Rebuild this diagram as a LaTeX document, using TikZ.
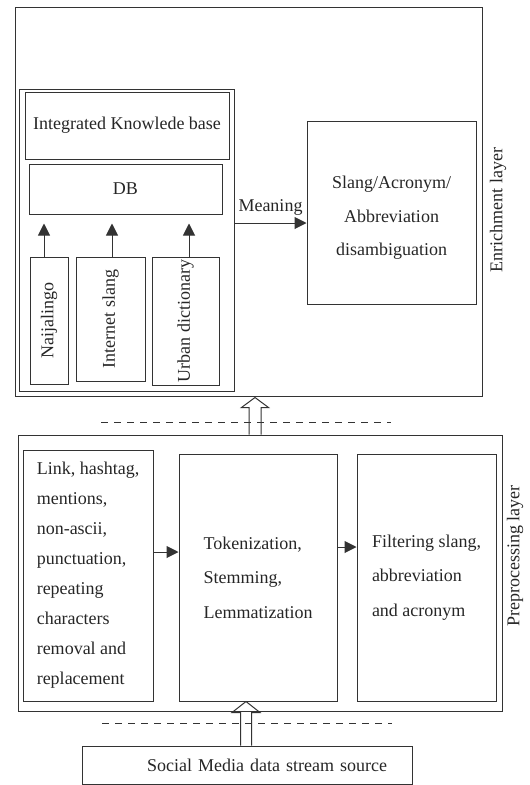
\documentclass[tikz,border=0pt]{standalone}
\usepackage{fontspec}
\setmainfont{Liberation Serif}
\usetikzlibrary{arrows.meta,positioning,calc}

\begin{document}
\begin{tikzpicture}[
  x=1pt, y=1pt,
  font=\fontsize{18}{22}\selectfont,
  blk/.style={draw=black!80, line width=1pt, align=center, inner sep=1pt, text=black!85},
  arrow/.style={-{Triangle[length=12pt, width=12pt]}, line width=1pt, draw=black!80, fill=black!80},
  hollow/.style={draw=black!80, line width=1pt, line join=miter},
  sep/.style={dash pattern=on 7pt off 6pt, line width=1pt, draw=black!80},
  layer/.style={rotate=90, text=black!85}
]
\useasboundingbox (0,0) rectangle (530,-785);

% enrichment layer
\node[blk, minimum width=467pt, minimum height=389pt] (enrich) at (248.5,-201.5) {};
\node[layer] (enrichlbl) at (498,-210) {Enrichment layer};
\node[blk, minimum width=215pt, minimum height=302pt] (kb) at (126.5,-240) {};
\node[blk, minimum width=204pt, minimum height=67pt] (ikb) at (127,-125.5) {Integrated Knowlede base};
\node[blk, minimum width=193pt, minimum height=50pt] (db) at (125.5,-189) {DB};
\node[blk, rotate=90, minimum width=127pt, minimum height=38pt] (naija) at (49,-320.5) {Naijalingo};
\node[blk, rotate=90, minimum width=124pt, minimum height=69pt] (islang) at (110.5,-319) {Internet slang};
\node[blk, rotate=90, minimum width=128pt, minimum height=67pt] (urban) at (185.5,-321) {Urban dictionary};
\node[blk, minimum width=169pt, minimum height=183pt, text height=90pt, font=\fontsize{18}{33.5}\selectfont] (slang) at (391.5,-212.5) {Slang/Acronym/\\Abbreviation\\disambiguation};

\draw[arrow, shorten >=9pt] ([xshift=-5pt]naija.east) -- ([xshift=-5pt]naija.east |- db.south);
\draw[arrow, shorten >=9pt] ([xshift=1.5pt]islang.east) -- ([xshift=1.5pt]islang.east |- db.south);
\draw[arrow, shorten >=9pt] ([xshift=3.5pt]urban.east) -- ([xshift=3.5pt]urban.east |- db.south);
\draw[arrow] ([yshift=17pt]kb.east) -- node[above=5pt, inner sep=2pt, text=black!85] {Meaning} ([yshift=17pt]kb.east -| slang.west);

% preprocessing layer
\node[blk, minimum width=484pt, minimum height=276pt] (pre) at (260,-573) {};
\node[layer] (prelbl) at (515,-556) {Preprocessing layer};
\node[blk, minimum width=130pt, minimum height=251pt, align=left, font=\fontsize{18}{30}\selectfont] (clean) at (88,-575.5) {Link, hashtag,\\mentions,\\non-ascii,\\punctuation,\\repeating\\characters\\removal and\\replacement};
\node[blk, minimum width=158pt, minimum height=247pt, align=left, font=\fontsize{18}{34.5}\selectfont] (token) at (258,-577.5) {Tokenization,\\Stemming,\\Lemmatization};
\node[blk, minimum width=139pt, minimum height=247pt, align=left, font=\fontsize{18}{34.5}\selectfont] (filter) at (426.5,-577.5) {Filtering slang,\\abbreviation\\and acronym};
\draw[arrow] ([yshift=23.5pt]clean.east) -- ([yshift=23.5pt]clean.east -| token.west);
\draw[arrow] ([yshift=30.5pt]token.east) -- ([yshift=30.5pt]token.east -| filter.west);

% source
\node[blk, minimum width=330pt, minimum height=38pt, text width=280pt, align=right] (social) at (247,-765) {Social Media data stream source};

% layer boundaries
\draw[sep] (101,-422) -- (391,-422);
\draw[sep] (102,-723) -- (392,-723);

% hollow arrows between layers
\coordinate (up1) at ([xshift=-5pt]pre.north);
\draw[hollow] (up1) ++(-6,0) -- ++(0,27) -- ++(-7.5,0) -- ++(13.5,10) -- ++(13.5,-10) -- ++(-7.5,0) -- ++(0,-27);
\coordinate (up2) at ([xshift=-1pt]social.north);
\draw[hollow] (up2) ++(-5.5,0) -- ++(0,33) -- ++(-8.5,0) -- ++(14,11) -- ++(14,-11) -- ++(-8.5,0) -- ++(0,-33);
\end{tikzpicture}
\end{document}
